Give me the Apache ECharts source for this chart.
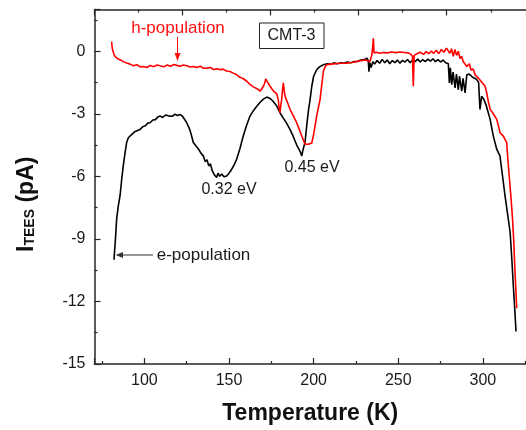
<!DOCTYPE html>
<html>
<head>
<meta charset="utf-8">
<script src="https://cdn.jsdelivr.net/npm/echarts@6/dist/echarts.min.js"></script>
<style>
  html, body { margin: 0; padding: 0; background: #fff; }
  #chart { width: 526px; height: 430px; }
</style>
</head>
<body>
<div id="chart"></div>
<script>
// e-population (black) trace: temperature (K) and current (pA)
var blackT = [82.0, 82.8, 83.6, 84.6, 85.6, 86.5, 87.5, 88.5, 89.5, 90.5, 91.5, 93.0, 94.5, 96.0, 97.4, 99.0, 100.5, 102.0, 103.3, 105.0,
  106.5, 108.0, 109.2, 110.8, 112.5, 114.0, 115.1, 116.5, 118.0, 119.5, 121.0, 122.5, 124.0, 125.0, 126.5, 127.5, 128.9, 130.5, 132.0, 133.5,
  134.8, 136.0, 137.0, 138.0, 139.0, 140.0, 140.7, 141.5, 142.7, 143.5, 144.5, 145.7, 147.0, 148.6, 150.0, 151.6, 153.0, 154.5, 156.5, 158.4,
  160.4, 162.4, 164.4, 166.4, 168.4, 170.3, 172.3, 173.2, 174.5, 176.0, 178.0, 180.1, 182.0, 184.0, 186.0, 188.0, 190.0, 192.0, 193.0, 193.8,
  194.9, 196.0, 197.0, 197.9, 198.9, 200.0, 201.8, 203.5, 205.7, 208.0, 210.0, 212.0, 214.0, 216.0, 218.0, 220.0, 222.0, 224.0, 226.0, 228.0,
  230.0, 231.5, 232.3, 232.7, 233.2, 234.0, 235.0, 236.0, 237.5, 239.0, 240.5, 242.0, 243.5, 245.0, 246.5, 248.0, 249.5, 251.0, 252.5, 254.0,
  255.5, 257.0, 258.5, 260.0, 261.5, 263.0, 264.5, 266.0, 267.5, 269.0, 270.5, 272.0, 273.5, 275.0, 276.5, 278.0, 279.6, 280.2, 280.8, 281.6,
  282.4, 283.6, 284.4, 285.5, 286.2, 287.5, 288.3, 289.5, 290.5, 292.0, 294.0, 296.4, 297.5, 298.3, 299.3, 300.5, 302.0, 304.3, 306.2, 308.2,
  310.1, 311.5, 313.1, 314.6, 316.1, 317.0, 318.0, 318.8, 319.6];
var blackI = [-10.0, -9.1, -8.04, -7.4, -6.93, -6.2, -5.5, -4.9, -4.38, -4.15, -4.07, -3.95, -3.85, -3.8, -3.75, -3.62, -3.58, -3.45, -3.43, -3.3,
  -3.28, -3.15, -3.11, -3.18, -3.06, -3.1, -3.03, -3.12, -3.02, -3.08, -3.03, -3.12, -3.3, -3.43, -3.7, -3.95, -4.38, -4.55, -4.7, -4.9,
  -5.02, -5.3, -5.2, -5.5, -5.4, -5.72, -5.66, -5.95, -6.05, -5.85, -6.0, -5.89, -6.02, -5.98, -5.85, -5.66, -5.45, -5.18, -4.65, -4.07,
  -3.55, -3.11, -2.85, -2.64, -2.45, -2.3, -2.2, -2.16, -2.28, -2.4, -2.6, -2.95, -3.2, -3.45, -3.75, -4.1, -4.5, -4.8, -5.02, -4.7,
  -4.38, -3.5, -2.8, -2.32, -1.68, -1.2, -0.89, -0.75, -0.65, -0.6, -0.63, -0.56, -0.6, -0.55, -0.58, -0.52, -0.55, -0.5, -0.48, -0.42,
  -0.4, -0.33, -0.45, -0.98, -0.55, -0.78, -0.5, -0.62, -0.45, -0.58, -0.4, -0.55, -0.42, -0.6, -0.45, -0.55, -0.42, -0.58, -0.44, -0.52,
  -0.4, -0.55, -0.42, -0.5, -0.38, -0.52, -0.4, -0.5, -0.38, -0.48, -0.36, -0.5, -0.4, -0.52, -0.42, -0.55, -0.6, -1.52, -0.8, -1.6,
  -1.0, -1.76, -1.1, -1.85, -1.2, -1.92, -1.3, -2.0, -1.13, -1.1, -1.25, -1.36, -1.5, -2.79, -2.16, -2.3, -2.6, -3.27, -4.07, -4.7,
  -5.02, -5.9, -6.93, -7.8, -8.67, -9.8, -11.22, -12.3, -13.44];

// h-population (red) trace
var redT = [80.6, 80.9, 81.2, 82.0, 82.6, 84.0, 85.6, 87.5, 89.5, 91.5, 93.5, 95.5, 97.5, 99.4, 101.5, 103.5, 105.5, 107.5, 109.2, 111.5,
  113.5, 115.5, 117.5, 119.1, 121.0, 123.0, 125.0, 127.0, 128.9, 131.0, 133.0, 135.0, 136.8, 139.0, 141.0, 143.0, 144.7, 146.5, 148.5, 150.6,
  152.5, 154.6, 156.5, 158.5, 160.5, 162.5, 164.4, 166.5, 168.4, 169.5, 170.3, 171.0, 171.7, 172.5, 173.2, 174.2, 175.2, 176.2, 177.2, 178.2,
  179.1, 179.6, 180.1, 180.6, 181.1, 181.6, 182.1, 182.6, 183.1, 184.5, 186.1, 188.0, 190.0, 191.5, 193.0, 194.9, 196.9, 197.9, 198.9, 199.8,
  200.8, 201.8, 202.8, 203.8, 204.8, 205.8, 206.8, 207.7, 210.0, 213.0, 216.0, 219.6, 222.5, 225.5, 228.0, 230.5, 233.3, 234.3, 234.9, 235.3,
  235.7, 237.0, 239.0, 241.2, 243.5, 246.0, 248.5, 251.0, 253.5, 256.0, 257.5, 258.4, 258.9, 259.4, 261.0, 263.0, 265.0, 266.5, 268.0, 269.5,
  271.0, 272.5, 274.0, 275.5, 277.0, 278.5, 279.6, 280.5, 281.5, 282.5, 283.5, 284.5, 285.5, 286.5, 287.5, 288.4, 289.5, 290.5, 292.0, 293.0,
  294.3, 295.5, 296.4, 297.5, 298.3, 299.5, 301.3, 302.3, 303.2, 304.3, 306.2, 308.2, 310.2, 312.1, 314.1, 314.7, 315.8, 316.7, 317.5, 318.2,
  319.0, 319.6, 320.0];
var redI = [0.46, 0.2, 0.07, -0.15, -0.25, -0.35, -0.41, -0.5, -0.57, -0.62, -0.7, -0.65, -0.75, -0.73, -0.78, -0.68, -0.74, -0.66, -0.7, -0.75,
  -0.66, -0.72, -0.64, -0.68, -0.72, -0.66, -0.7, -0.76, -0.73, -0.78, -0.72, -0.82, -0.81, -0.78, -0.88, -0.84, -0.89, -0.86, -0.95, -0.97,
  -1.05, -1.13, -1.25, -1.32, -1.44, -1.6, -1.71, -1.8, -1.92, -1.88, -1.68, -1.55, -1.33, -1.45, -1.52, -1.68, -1.76, -1.9, -1.84, -2.05,
  -2.32, -2.7, -2.95, -2.6, -2.32, -1.85, -1.52, -1.9, -2.16, -2.45, -2.8, -3.1, -3.43, -3.75, -4.07, -4.46, -4.46, -4.54, -4.4, -4.07,
  -3.6, -3.11, -2.7, -2.32, -1.6, -0.95, -0.75, -0.65, -0.62, -0.6, -0.58, -0.57, -0.54, -0.5, -0.45, -0.42, -0.49, -0.2, 0.2, 0.62,
  -0.09, -0.05, -0.1, -0.06, -0.08, -0.04, -0.07, -0.04, -0.06, -0.08, -0.15, -0.25, -1.68, -0.2, -0.12, -0.05, -0.15, -0.02, -0.12, 0.0,
  -0.1, 0.05, -0.12, 0.08, -0.05, 0.15, 0.22, -0.1, 0.12, -0.25, 0.08, -0.2, 0.0, -0.35, -0.25, -0.49, -0.4, -0.73, -0.6, -0.9,
  -0.85, -1.15, -1.21, -1.3, -1.37, -1.5, -1.68, -2.0, -2.4, -2.79, -3.0, -3.27, -3.91, -4.07, -4.38, -5.1, -6.2, -7.09, -8.0, -9.0,
  -10.57, -11.6, -12.33];

function pairs(xs, ys) {
  return xs.map(function (x, i) { return [x, ys[i]]; });
}

var font = 'Liberation Sans, Arial, sans-serif';
var axisColor = '#262626';

var chart = echarts.init(document.getElementById('chart'), null, { renderer: 'canvas' });

var option = {
  backgroundColor: '#ffffff',
  animation: false,
  grid: { left: 94.5, right: 0, top: 9.5, bottom: 64.5 },
  xAxis: [
    {
      type: 'value',
      position: 'bottom',
      min: 70.5,
      max: 325.5,
      splitNumber: 5,
      name: 'Temperature (K)',
      nameLocation: 'middle',
      nameGap: 38,
      nameTextStyle: { fontFamily: font, fontWeight: 'bold', fontSize: 23, color: '#111' },
      axisLine: { onZero: false, lineStyle: { color: axisColor, width: 1.5 } },
      axisTick: { inside: true, length: 6, lineStyle: { color: axisColor, width: 1.2 } },
      minorTick: { show: true, splitNumber: 2, length: 3, lineStyle: { color: axisColor, width: 1.2 } },
      splitLine: { show: false },
      axisLabel: { showMinLabel: false, showMaxLabel: false, fontFamily: font, fontSize: 16, color: '#1a1a1a', margin: 9 }
    },
    {
      // plain top frame edge with its own tick spacing
      type: 'value',
      position: 'top',
      min: 0,
      max: 245,
      interval: 50,
      axisLine: { onZero: false, lineStyle: { color: axisColor, width: 1.5 } },
      axisTick: { inside: true, length: 6, lineStyle: { color: axisColor, width: 1.2 } },
      minorTick: { show: true, splitNumber: 2, length: 3, lineStyle: { color: axisColor, width: 1.2 } },
      splitLine: { show: false },
      axisLabel: { show: false }
    }
  ],
  yAxis: {
    type: 'value',
    min: -15,
    max: 2,
    interval: 3,
    name: '{b|I}{s|TEES}{b| (pA)}',
    nameLocation: 'middle',
    nameGap: 56,
    nameRotate: 90,
    nameTextStyle: {
      padding: [0, 35, 0, 0],
      rich: {
        b: { fontFamily: font, fontWeight: 'bold', fontSize: 23, color: '#111' },
        s: { fontFamily: font, fontWeight: 'bold', fontSize: 14, color: '#111', padding: [6, 0, 0, 0] }
      }
    },
    axisLine: { onZero: false, lineStyle: { color: axisColor, width: 1.5 } },
    axisTick: { inside: true, length: 6, lineStyle: { color: axisColor, width: 1.2 } },
    minorTick: { show: true, splitNumber: 2, length: 3, lineStyle: { color: axisColor, width: 1.2 } },
    splitLine: { show: false },
    axisLabel: { showMaxLabel: false, fontFamily: font, fontSize: 16, color: '#1a1a1a', margin: 9 }
  },
  series: [
    {
      name: 'e-population',
      type: 'line',
      xAxisIndex: 0,
      data: pairs(blackT, blackI),
      symbol: 'none',
      lineStyle: { color: '#000000', width: 1.6 },
      z: 2
    },
    {
      name: 'h-population',
      type: 'line',
      xAxisIndex: 0,
      data: pairs(redT, redI),
      symbol: 'none',
      lineStyle: { color: '#ff0000', width: 1.6 },
      z: 3
    }
  ],
  graphic: [
    { type: 'text', style: { text: 'h-population', x: 178, y: 28.5, align: 'center', verticalAlign: 'middle', font: '17px ' + font, fill: '#ff1010' } },
    { type: 'line', shape: { x1: 177.5, y1: 37, x2: 177.5, y2: 55 }, style: { stroke: '#ff1010', lineWidth: 1 } },
    { type: 'polygon', shape: { points: [[174.5, 53], [180.5, 53], [177.5, 61]] }, style: { fill: '#ff1010' } },
    { type: 'rect', shape: { x: 259.5, y: 23, width: 64.5, height: 25.5 }, style: { fill: 'none', stroke: '#222', lineWidth: 1 } },
    { type: 'text', style: { text: 'CMT-3', x: 291.5, y: 36, align: 'center', verticalAlign: 'middle', font: '16px ' + font, fill: '#1a1a1a' } },
    { type: 'text', style: { text: '0.32 eV', x: 229, y: 189.5, align: 'center', verticalAlign: 'middle', font: '16px ' + font, fill: '#1a1a1a' } },
    { type: 'text', style: { text: '0.45 eV', x: 312, y: 167.5, align: 'center', verticalAlign: 'middle', font: '16px ' + font, fill: '#1a1a1a' } },
    { type: 'text', style: { text: 'e-population', x: 203.5, y: 255.5, align: 'center', verticalAlign: 'middle', font: '17px ' + font, fill: '#1a1a1a' } },
    { type: 'line', shape: { x1: 153, y1: 255, x2: 121, y2: 255 }, style: { stroke: '#333', lineWidth: 1 } },
    { type: 'polygon', shape: { points: [[115.5, 255], [123, 252], [123, 258]] }, style: { fill: '#333' } }
  ]
};

chart.setOption(option);
</script>
</body>
</html>
